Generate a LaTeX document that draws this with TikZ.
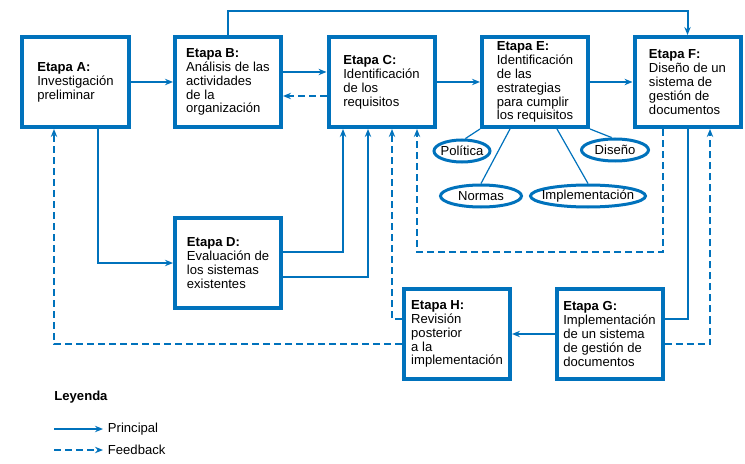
\documentclass[tikz,border=0pt]{standalone}
\usepackage{fontspec}
\setmainfont{Liberation Sans}
\usetikzlibrary{positioning, arrows.meta, shapes.geometric, calc}
\definecolor{azul}{RGB}{0,114,188}

\begin{document}
\begin{tikzpicture}[x=0.25mm, y=-0.25mm,
  every node/.style={font=\fontsize{9.3}{9.9}\selectfont},
  etapa/.style={draw=azul, line width=1mm, fill=white, align=left,
    minimum width=26.5mm, minimum height=22.5mm, inner sep=0pt},
  estrategia/.style={draw=azul, ellipse, line width=0.75mm, fill=white,
    inner xsep=-1.4mm, inner ysep=0.3mm, minimum height=5.5mm},
  linea/.style={draw=azul, line width=0.5mm},
  principal/.style={linea, -{Stealth[length=2mm, width=1.6mm]}},
  feedback/.style={principal, dash pattern=on 1.75mm off 1mm},
  rama/.style={draw=azul, line width=0.3mm}]
 \useasboundingbox (0,0) rectangle (745,464);
 % etapas
 \node[etapa] (A) at (75.5,82) {\textbf{Etapa A:}\\Investigación\\preliminar};
 \node[etapa] (B) at (228,82) {\textbf{Etapa B:}\\Análisis de las\\actividades\\de la\\organización};
 \node[etapa] (C) at (381.5,82) {\textbf{Etapa C:}\\Identificación\\de los\\requisitos};
 \node[etapa] (E) at (535,82) {\textbf{Etapa E:}\\Identificación\\de las\\estrategias\\para cumplir\\los requisitos};
 \node[etapa] (F) at (687.5,82) {\textbf{Etapa F:}\\Diseño de un\\sistema de\\gestión de\\documentos};
 \node[etapa] (D) at (228,263) {\textbf{Etapa D:}\\Evaluación de\\los sistemas\\existentes};
 \node[etapa] (H) at (457,334) {\textbf{Etapa H:}\\Revisión\\posterior\\a la\\implementación};
 \node[etapa] (G) at (609.5,334) {\textbf{Etapa G:}\\Implementación\\de un sistema\\de gestión de\\documentos};
 % estrategias
 \node[estrategia, minimum width=14mm] (pol) at (462,151) {Política};
 \node[estrategia, minimum width=16.75mm] (dis) at (615,150) {Diseño};
 \node[estrategia, minimum width=20.25mm] (nor) at (481,196) {Normas};
 \node[estrategia, minimum width=28.75mm] (imp) at (588,196) {Implementación};
 \draw[rama] (E.south west) -- (pol.75);
 \draw[rama] ($(E.south)+(-25,0)$) -- (nor.north);
 \draw[rama] ($(E.south)+(22,0)$) -- (imp.north);
 \draw[rama] (E.south east) -- (dis.105);
 % flujo principal
 \draw[principal] (A) -- (B);
 \draw[principal] ($(B.east)+(0,-10)$) -- ($(C.west)+(0,-10)$);
 \draw[principal] (C.east) -- (C.east -| E.west);
 \draw[principal] (E.east) -- (E.east -| F.west);
 \draw[principal] (B.north) -- ++(0,-24) -| (F.north);
 \draw[principal] ($(A.south)+(22.5,0)$) |- (D.west);
 \draw[principal] ($(D.east)+(0,-11)$) -| ($(C.south)+(-38.5,0)$);
 \draw[principal] ($(D.east)+(0,14)$) -| ($(C.south)+(-13.5,0)$);
 \draw[linea] (F.south) |- ($(G.east)+(0,-15)$);
 \draw[principal] (G) -- (H);
 % feedback
 \draw[feedback] ($(C.west)+(0,14)$) -- ($(B.east)+(0,14)$);
 \draw[feedback] ($(H.west)+(0,-15)$) -| ($(C.south)+(10.5,0)$);
 \draw[feedback] ($(F.south)+(-24.5,0)$) -- ++(0,123) -| ($(C.south)+(35.5,0)$);
 \draw[feedback] ($(G.east)+(0,10)$) -| ($(F.south)+(22.5,0)$);
 \draw[feedback] ($(H.west)+(0,10)$) -| ($(A.south)+(-21.5,0)$);
 % leyenda
 \node[anchor=west] (leyenda) at (49.5,397) {\textbf{Leyenda}};
 \node[anchor=west] (lprin) at (103,429) {Principal};
 \node[anchor=west] (lfeed) at (103,450) {Feedback};
 \coordinate (p0) at (54,429);
 \coordinate (f0) at (54,450);
 \draw[principal, line width=0.3mm] (p0) -- (lprin.west);
 \draw[feedback, line width=0.3mm] (f0) -- (lfeed.west);
\end{tikzpicture}
\end{document}
